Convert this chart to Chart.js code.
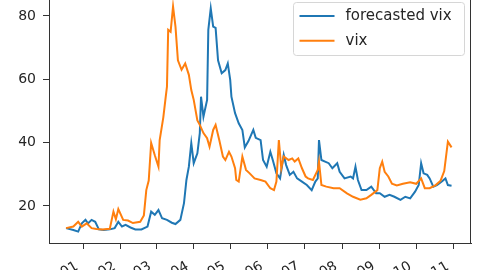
<!DOCTYPE html>
<html>
<head>
<meta charset="utf-8">
<script src="https://cdn.jsdelivr.net/npm/chart.js@4.4.1/dist/chart.umd.min.js"></script>
<style>
  html, body { margin: 0; padding: 0; background: #fff; overflow: hidden; }
  body { width: 480px; height: 270px; position: relative; }
  #chart { position: absolute; left: 0; top: -4px; }
</style>
</head>
<body>
<canvas id="chart" width="480" height="274"></canvas>
<script>
// x values are days counted from 1 Jan (tick "01" = day 0)
const monthTicks = [0, 31, 60, 91, 121, 152, 182, 213, 244, 274, 305];
const monthLabels = ['01', '02', '03', '04', '05', '06', '07', '08', '09', '10', '11'];
const yTicks = [20, 40, 60, 80];

const forecastDays = [-14, -8, -4, -1, 2, 4, 7, 10, 13, 17, 22, 26, 29, 32, 35, 39, 43, 48, 53, 56,
    59, 62, 65, 69, 73, 76, 80, 83, 85, 87, 89, 91, 94, 96, 97, 99, 102, 103, 105, 107,
    109, 111, 114, 117, 119, 121, 122, 125, 128, 131, 133, 136, 140, 142, 146, 148, 151, 154, 156, 159,
    162, 165, 167, 170, 173, 176, 180, 184, 188, 191, 193, 194, 196, 199, 202, 205, 209, 211, 215, 220,
    222, 224, 226, 229, 233, 237, 241, 244, 248, 252, 256, 261, 265, 269, 273, 276, 278, 280, 283, 285,
    288, 291, 295, 298, 300, 303];
const forecastValues = [13.0, 12.4, 11.9, 14.5, 15.6, 14.5, 15.6, 15.0, 12.6, 12.4, 12.6, 13.0, 15.0, 13.5, 14.0, 13.2, 12.6, 12.6, 13.5, 18.2,
    17.2, 18.7, 16.1, 15.6, 14.7, 14.3, 15.6, 20.9, 28.2, 32.4, 39.8, 33.5, 36.6, 43.0, 54.5, 48.2, 53.5, 75.6, 82.4, 76.6,
    76.2, 66.0, 61.9, 62.9, 65.0, 59.8, 54.5, 49.3, 46.1, 44.0, 38.5, 40.5, 44.0, 41.5, 40.8, 34.5, 32.4, 37.1, 34.5, 30.3,
    28.7, 36.1, 32.9, 29.8, 30.8, 28.7, 27.7, 26.6, 25.0, 27.7, 28.7, 40.8, 34.5, 34.0, 33.5, 31.9, 33.5, 30.8, 28.7, 29.3,
    28.7, 32.4, 28.2, 25.0, 25.0, 26.1, 24.0, 24.0, 22.9, 23.5, 22.9, 21.9, 22.9, 22.4, 24.5, 26.6, 33.5, 30.3, 29.8, 28.7,
    26.1, 26.6, 27.7, 28.7, 26.6, 26.4];

const vixDays = [-14, -8, -4, -1, 3, 7, 11, 16, 22, 25, 27, 29, 33, 37, 41, 47, 50, 52, 54, 56,
    59, 62, 63, 66, 68, 69, 70, 72, 74, 76, 78, 81, 84, 87, 89, 91, 94, 96, 99, 102,
    104, 107, 109, 112, 115, 117, 120, 122, 125, 126, 128, 131, 134, 137, 141, 146, 150, 154, 157, 159,
    161, 163, 165, 169, 172, 174, 177, 180, 183, 185, 189, 193, 194, 196, 200, 206, 211, 217, 222, 228,
    233, 237, 242, 244, 246, 248, 251, 254, 258, 263, 269, 274, 278, 281, 285, 290, 294, 297, 300, 303];
const vixValues = [13.0, 13.5, 15.0, 13.5, 14.5, 13.0, 12.7, 12.6, 12.8, 18.2, 15.8, 19.0, 15.6, 15.4, 14.6, 15.0, 17.0, 25.0, 28.0, 39.9,
    36.0, 32.4, 40.8, 48.0, 54.5, 57.7, 75.6, 75.0, 83.0, 76.6, 66.0, 63.0, 65.0, 61.4, 56.6, 53.5, 47.0, 45.6, 43.0, 41.4,
    38.7, 44.0, 45.6, 40.8, 35.6, 34.5, 37.1, 35.6, 31.9, 28.2, 27.7, 35.6, 31.4, 30.3, 28.7, 28.2, 27.7, 25.6, 25.0, 27.7,
    40.8, 31.9, 35.6, 34.5, 35.0, 34.0, 35.0, 31.9, 29.3, 28.7, 28.2, 31.4, 34.0, 26.6, 26.1, 25.6, 25.6, 24.0, 22.9, 22.0,
    22.4, 23.5, 25.0, 31.9, 34.0, 30.8, 29.3, 27.0, 26.5, 27.0, 27.5, 27.0, 28.7, 25.6, 25.6, 26.6, 28.0, 31.0, 40.3, 38.5];

const tickFont = { family: 'DejaVu Sans', size: 14 };
const axisColor = '#333';
const textColor = '#262626';

function points(days, values) {
    return days.map((d, i) => ({ x: d, y: values[i] }));
}

// top and right spines (left/bottom come from the axis borders)
const frame = {
    id: 'frame',
    afterDatasetsDraw(chart) {
        const ctx = chart.ctx;
        const a = chart.chartArea;
        ctx.save();
        ctx.strokeStyle = axisColor;
        ctx.lineWidth = 1;
        ctx.beginPath();
        ctx.moveTo(a.left, a.top + 0.5);
        ctx.lineTo(a.right - 0.5, a.top + 0.5);
        ctx.lineTo(a.right - 0.5, a.bottom);
        ctx.stroke();
        ctx.restore();
    }
};

// matplotlib style legend box in the upper right corner
const legendBox = {
    id: 'legendBox',
    afterDraw(chart) {
        const ctx = chart.ctx;
        const a = chart.chartArea;
        const left = a.right - 178 + 0.5;
        const top = a.top + 6 + 0.5;
        ctx.save();
        ctx.beginPath();
        ctx.roundRect(left, top, 171, 53, 3);
        ctx.fillStyle = 'rgba(255,255,255,0.8)';
        ctx.fill();
        ctx.strokeStyle = '#d6d6d6';
        ctx.lineWidth = 1;
        ctx.stroke();
        ctx.font = '15px "DejaVu Sans"';
        ctx.textBaseline = 'middle';
        ctx.fillStyle = textColor;
        chart.data.datasets.forEach((ds, i) => {
            const y = top + 13.5 + i * 24.7;
            ctx.beginPath();
            ctx.strokeStyle = ds.borderColor;
            ctx.lineWidth = 2;
            ctx.moveTo(left + 6, y);
            ctx.lineTo(left + 41, y);
            ctx.stroke();
            ctx.fillText(ds.label, left + 52, y);
        });
        ctx.restore();
    }
};

new Chart(document.getElementById('chart').getContext('2d'), {
    type: 'line',
    data: {
        datasets: [{
            label: 'forecasted vix',
            data: points(forecastDays, forecastValues),
            borderColor: '#1f77b4',
            borderWidth: 2,
            pointRadius: 0,
            order: 1
        }, {
            label: 'vix',
            data: points(vixDays, vixValues),
            borderColor: '#ff7f0e',
            borderWidth: 2,
            pointRadius: 0,
            order: 0
        }]
    },
    options: {
        responsive: false,
        animation: false,
        devicePixelRatio: 1,
        layout: { padding: { left: 0, right: 9, top: 0, bottom: 0 } },
        plugins: {
            legend: { display: false },
            tooltip: { enabled: false }
        },
        scales: {
            x: {
                type: 'linear',
                min: -28,
                max: 319,
                afterBuildTicks: scale => { scale.ticks = monthTicks.map(v => ({ value: v })); },
                afterFit: scale => {
                    scale.height = 27;
                    scale.paddingLeft = 0;
                    scale.paddingRight = 0;
                },
                grid: { drawOnChartArea: false, drawTicks: true, tickLength: 6, color: axisColor },
                border: { color: axisColor, width: 1 },
                ticks: {
                    autoSkip: false,
                    minRotation: 30,
                    maxRotation: 30,
                    padding: 9,
                    labelOffset: -6,
                    font: tickFont,
                    color: textColor,
                    callback: value => monthLabels[monthTicks.indexOf(value)]
                }
            },
            y: {
                type: 'linear',
                min: 8.3,
                max: 86.3,
                afterBuildTicks: scale => { scale.ticks = yTicks.map(v => ({ value: v })); },
                afterFit: scale => {
                    scale.width = 49;
                    scale.paddingTop = 0;
                    scale.paddingBottom = 0;
                },
                grid: { drawOnChartArea: false, drawTicks: true, tickLength: 6, color: axisColor },
                border: { color: axisColor, width: 1 },
                ticks: {
                    padding: 7,
                    font: tickFont,
                    color: textColor,
                    callback: value => String(value)
                }
            }
        }
    },
    plugins: [frame, legendBox]
});
</script>
</body>
</html>
